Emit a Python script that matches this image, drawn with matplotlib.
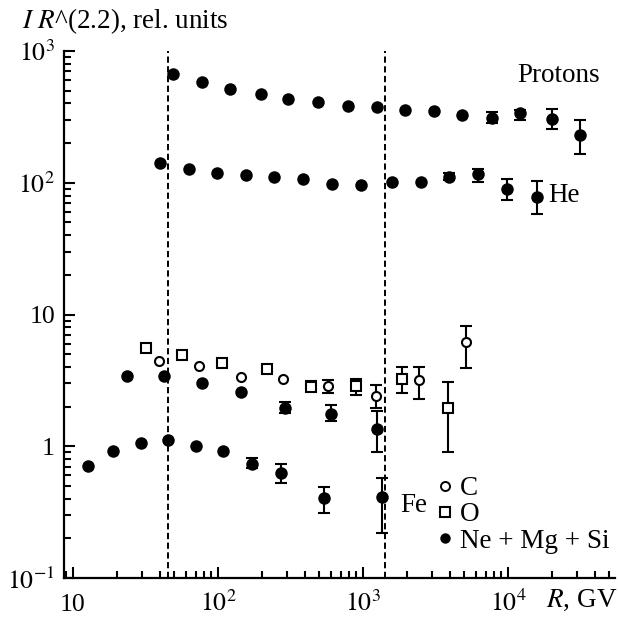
import numpy as np
import matplotlib
matplotlib.use("Agg")
import matplotlib.pyplot as plt
from matplotlib.lines import Line2D
from matplotlib.ticker import FixedLocator, LogLocator, NullFormatter, FixedFormatter

plt.rcParams['font.family'] = ['Liberation Serif', 'DejaVu Serif']
plt.rcParams['mathtext.fontset'] = 'stix'

# ---- data (rigidity R in GV, I*R^2.2 in rel. units) ----
p_R = [49, 77, 121, 197, 303, 492, 788, 1243, 1950, 3074, 4840, 7800, 12100, 20000, 31400]
p_I = [665, 585, 514, 469, 430, 412, 384, 374, 355, 351, 325, 312, 337, 305, 230]
p_lo = [None]*11 + [284, 299, 255, 166]
p_hi = [None]*11 + [343, 357, 363, 299]

he_R = [39.8, 63.1, 98.9, 156, 243, 387, 608, 964, 1592, 2500, 3917, 6240, 9890, 15900]
he_I = [141, 127, 119, 114, 111, 106, 97.3, 96.1, 101.4, 101.9, 111, 116, 90.2, 77.6]
he_lo = [None]*10 + [105, 102, 74.3, 57.5]
he_hi = [None]*10 + [118, 127, 107, 104]

c_R = [39.4, 74, 143, 282, 577, 1230, 2433, 5110]
c_I = [4.46, 4.06, 3.37, 3.22, 2.88, 2.41, 3.18, 6.15]
c_lo = [None]*4 + [2.55, 1.96, 2.28, 3.93]
c_hi = [None]*4 + [3.18, 2.92, 4.02, 8.22]

o_R = [31.7, 56.7, 107, 217, 438, 895, 1867, 3838]
o_I = [5.54, 4.93, 4.26, 3.84, 2.80, 2.87, 3.22, 1.94]
o_lo = [None]*4 + [2.67, 2.45, 2.55, 0.909]
o_hi = [None]*4 + [3.13, 3.24, 4.02, 3.09]

nms_R = [23.5, 42.4, 77.2, 143, 290, 601, 1243]
nms_I = [3.41, 3.40, 3.04, 2.57, 1.96, 1.75, 1.35]
nms_lo = [None]*4 + [1.80, 1.56, 0.909]
nms_hi = [None]*4 + [2.18, 2.06, 1.85]

fe_R = [12.7, 19.0, 29.4, 45.0, 70.2, 109, 172, 272, 541, 1346]
fe_I = [0.708, 0.916, 1.06, 1.11, 1.0, 0.925, 0.733, 0.623, 0.403, 0.414]
fe_lo = [None]*6 + [0.68, 0.523, 0.313, 0.218]
fe_hi = [None]*6 + [0.81, 0.73, 0.493, 0.571]

boundaries = [45, 1420]

x_ticks = [10, 100, 1000, 10000]
x_ticklabels = ['10', r'$10^2$', r'$10^3$', r'$10^4$']
y_ticks = [0.1, 1, 10, 100, 1000]
y_ticklabels = [r'$10^{-1}$', '1', '10', r'$10^2$', r'$10^3$']

# ---- figure ----
W, H = 618, 620
fig = plt.figure(figsize=(W/100, H/100), dpi=100)
ax = fig.add_axes([64/W, 1-578/H, (615-64)/W, (578-51)/H])
ax.set_xscale('log')
ax.set_yscale('log')
ax.set_xlim(8.67, 54700)
ax.set_ylim(0.1, 1000)

for s in ['top', 'right']:
    ax.spines[s].set_visible(False)
for s in ['left', 'bottom']:
    ax.spines[s].set_linewidth(1.6)

for b in boundaries:
    ax.axvline(b, color='black', lw=1.4, ls=(0, (3.2, 1.8)), zorder=1)

FS = 19.5
TFS = 18.5

def series(R, I, lo, hi, marker, ms, filled):
    R = np.array(R, float); I = np.array(I, float)
    mask = np.array([v is not None for v in lo])
    if mask.any():
        lo_a = np.array([v for v in lo if v is not None], float)
        hi_a = np.array([v for v in hi if v is not None], float)
        Ie = I[mask]
        ax.errorbar(R[mask], Ie, yerr=[Ie - lo_a, hi_a - Ie], fmt='none',
                    ecolor='black', elinewidth=1.5, capsize=4.3, capthick=1.5, zorder=2)
    ax.plot(R, I, ls='none', marker=marker, ms=ms,
            mfc='black' if filled else 'white', mec='black',
            mew=0 if filled else 1.5, zorder=3)

series(p_R, p_I, p_lo, p_hi, 'o', 9.0, True)
series(he_R, he_I, he_lo, he_hi, 'o', 9.0, True)
series(nms_R, nms_I, nms_lo, nms_hi, 'o', 9.0, True)
series(fe_R, fe_I, fe_lo, fe_hi, 'o', 9.0, True)
series(o_R, o_I, o_lo, o_hi, 's', 6.8, False)
series(c_R, c_I, c_lo, c_hi, 'o', 6.5, False)

# ticks
ax.xaxis.set_major_locator(FixedLocator(x_ticks))
ax.xaxis.set_major_formatter(FixedFormatter(x_ticklabels))
ax.xaxis.set_minor_locator(LogLocator(base=10, subs=np.arange(2, 10)))
ax.xaxis.set_minor_formatter(NullFormatter())
ax.yaxis.set_major_locator(FixedLocator(y_ticks))
ax.yaxis.set_major_formatter(FixedFormatter(y_ticklabels))
ax.yaxis.set_minor_locator(LogLocator(base=10, subs=np.arange(2, 10)))
ax.yaxis.set_minor_formatter(NullFormatter())
ax.tick_params(which='both', direction='in', width=1.5, labelsize=TFS,
               top=False, right=False)
ax.tick_params(which='major', length=8)
ax.tick_params(which='minor', length=5)
ax.tick_params(axis='x', pad=23.5)
ax.tick_params(axis='y', pad=6.5)
for t in ax.xaxis.get_major_ticks():
    t.label1.set_verticalalignment('baseline')

# labels
fig.text(22/W, 1-21/H, r'$I\ R$^(2.2), rel. units', fontsize=FS, ha='left', va='center')
fig.text(617/W, 1-607/H, r'$R$, GV', fontsize=FS, ha='right', va='baseline')

fig.text(517/W, 1-75/H, 'Protons', fontsize=FS, ha='left', va='center')
fig.text(548/W, 1-196/H, 'He', fontsize=FS, ha='left', va='center')
fig.text(400/W, 1-505/H, 'Fe', fontsize=FS, ha='left', va='center')

handles = [
    Line2D([], [], ls='none', marker='o', ms=6.5, mfc='white', mec='black', mew=1.4),
    Line2D([], [], ls='none', marker='s', ms=6.8, mfc='white', mec='black', mew=1.5),
    Line2D([], [], ls='none', marker='o', ms=7.5, mfc='black', mec='black', mew=0),
]
fig.legend(handles, ['C', 'O', 'Ne + Mg + Si'], loc='upper left',
           bbox_to_anchor=(438/W, 1-476/H), frameon=False, fontsize=FS,
           handlelength=0.5, handletextpad=0.3, labelspacing=0.05,
           borderpad=0, borderaxespad=0)

fig.savefig('out.png', dpi=100)
